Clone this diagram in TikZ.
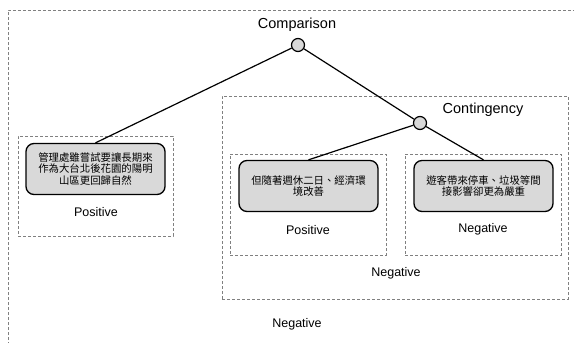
\documentclass[tikz,border=0pt]{standalone}
\usepackage{fontspec}
\setmainfont{Liberation Sans}
\newfontfamily\cjk{Noto Sans CJK TC}
\usepackage{tikz}
\usetikzlibrary{positioning}
\definecolor{boxgray}{RGB}{217,217,217}
\definecolor{dashgray}{RGB}{128,128,128}

\begin{document}
\begin{tikzpicture}[x=1pt, y=-1pt,
                    region/.style={draw=dashgray, line width=0.8pt, dash pattern=on 3pt off 2pt,
                                   minimum width=156pt, minimum height=101pt, inner sep=0pt},
                    claim/.style={draw, line width=1.3pt, fill=boxgray, rounded corners=8pt,
                                  minimum width=139pt, minimum height=51pt, align=center, inner sep=2pt,
                                  font={\cjk\fontsize{10.4pt}{11.7pt}\selectfont}},
                    branch/.style={circle, draw, line width=1.2pt, fill=boxgray,
                                   minimum size=13pt, inner sep=0pt},
                    big/.style={font=\fontsize{14.5pt}{17pt}\selectfont},
                    small/.style={font=\fontsize{12.5pt}{15pt}\selectfont},
                    link/.style={line width=1.2pt}]
      \clip (0,0) rectangle (574,343);
      % Outer region
      \draw[draw=dashgray, line width=0.8pt, dash pattern=on 3pt off 2pt] (8,360) |- (600,10);
      \node[small] (neg-outer) at (297,324) {Negative};

      % Comparison node
      \node[branch] (cmp) at (298,45) {};
      \node[big] (cmp-lbl) at (297,25) {Comparison};

      % Left leaf
      \node[region, minimum width=155pt, minimum height=100pt] (left-box) at (95.5,186) {};
      \node[claim] (left) at (95.5,169) {管理處雖嘗試要讓長期來\\作為大台北後花園的陽明\\山區更回歸自然};
      \node[small] (left-lbl) at (96,212) {Positive};

      % Contingency node
      \node[region, minimum width=346pt, minimum height=203pt] (cnt-box) at (395,197.5) {};
      \node[branch] (cnt) at (420,123) {};
      \node[big] (cnt-lbl) at (483,110) {Contingency};
      \node[small] (cnt-neg) at (396,273) {Negative};

      % Middle leaf
      \node[region] (mid-box) at (308,204.5) {};
      \node[claim] (mid) at (308.5,186) {但隨著週休二日、經濟環\\境改善};
      \node[small] (mid-lbl) at (308,230) {Positive};

      % Right leaf
      \node[region] (right-box) at (483,204.5) {};
      \node[claim] (right) at (483.5,186) {遊客帶來停車、垃圾等間\\接影響卻更為嚴重};
      \node[small] (right-lbl) at (483,229) {Negative};

      % Connectors
      \draw[link] (cmp) -- (left.north);
      \draw[link] (cmp) -- (cnt);
      \draw[link] (cnt) -- (mid.north);
      \draw[link] (cnt) -- (right.north);
    \end{tikzpicture}
\end{document}
